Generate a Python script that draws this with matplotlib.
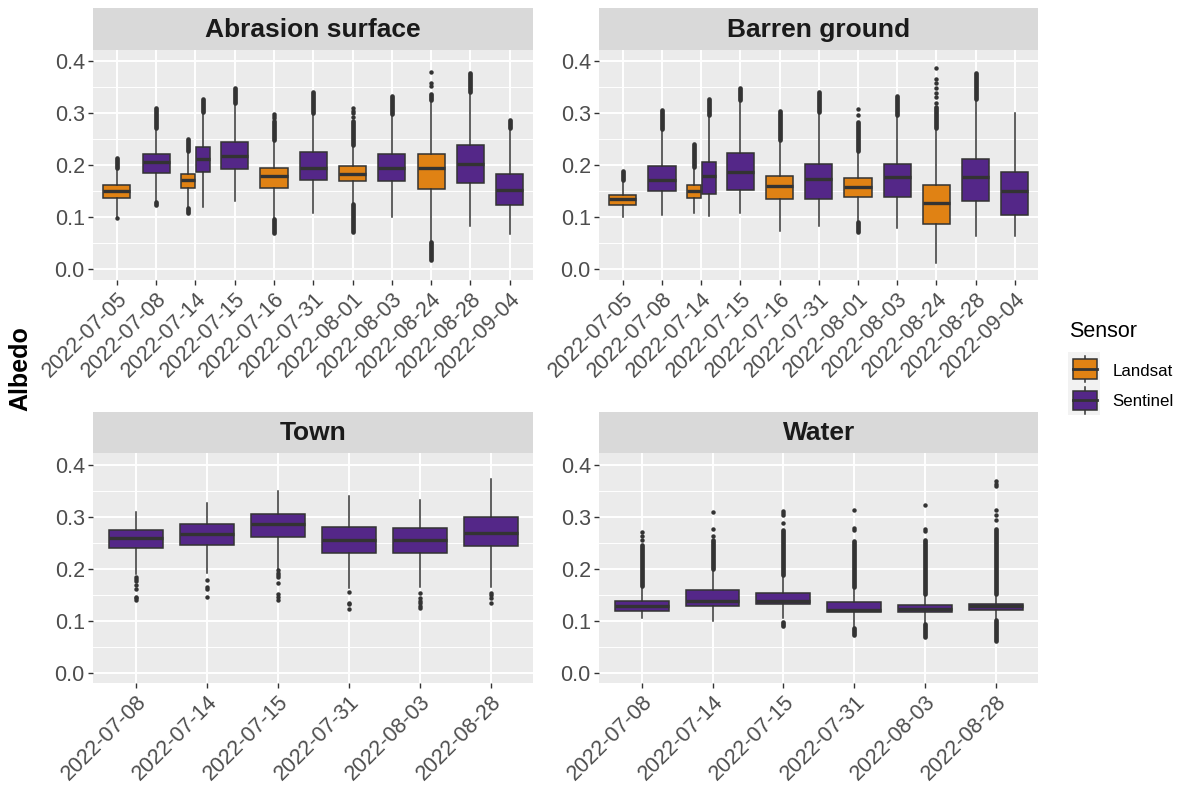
import matplotlib
matplotlib.use("Agg")
import matplotlib.pyplot as plt
import matplotlib.transforms as mtransforms
from matplotlib.patches import Rectangle

plt.rcParams['font.family'] = ['Liberation Sans', 'DejaVu Sans']

# ---------------- data ----------------
SENSORS = ['Landsat', 'Sentinel']
SENSOR_COLORS = ['#E08214', '#542788']

Y_TICKS = [0.0, 0.1, 0.2, 0.3, 0.4]
Y_TICK_LABELS = ['0.0', '0.1', '0.2', '0.3', '0.4']

# Abrasion surface
AB_DATES = ['2022-07-05', '2022-07-08', '2022-07-14', '2022-07-15', '2022-07-16', '2022-07-31',
            '2022-08-01', '2022-08-03', '2022-08-24', '2022-08-28', '2022-09-04']
AB_BOX_DATE = ['2022-07-05', '2022-07-08', '2022-07-14', '2022-07-14', '2022-07-15', '2022-07-16',
               '2022-07-31', '2022-08-01', '2022-08-03', '2022-08-24', '2022-08-28', '2022-09-04']
AB_SENSOR = ['Landsat', 'Sentinel', 'Landsat', 'Sentinel', 'Sentinel', 'Landsat',
             'Sentinel', 'Landsat', 'Sentinel', 'Landsat', 'Sentinel', 'Sentinel']
AB_WLO = [0.101, 0.130, 0.118, 0.119, 0.132, 0.098, 0.108, 0.127, 0.100, 0.055, 0.084, 0.068]
AB_Q1 = [0.138, 0.185, 0.157, 0.187, 0.193, 0.157, 0.172, 0.169, 0.169, 0.154, 0.166, 0.124]
AB_MED = [0.150, 0.206, 0.171, 0.212, 0.218, 0.179, 0.195, 0.184, 0.195, 0.195, 0.202, 0.153]
AB_Q3 = [0.162, 0.221, 0.184, 0.236, 0.244, 0.194, 0.226, 0.199, 0.222, 0.222, 0.239, 0.184]
AB_WHI = [0.193, 0.270, 0.225, 0.300, 0.318, 0.247, 0.298, 0.238, 0.297, 0.323, 0.339, 0.270]
AB_CLUMPS = [[(0.195, 0.214)], [(0.124, 0.130), (0.272, 0.310)], [(0.108, 0.117), (0.227, 0.250)],
             [(0.302, 0.327)], [(0.320, 0.349)], [(0.069, 0.096), (0.249, 0.285)], [(0.300, 0.341)],
             [(0.071, 0.125), (0.240, 0.285)], [(0.299, 0.333)], [(0.017, 0.053), (0.325, 0.338)],
             [(0.341, 0.378)], [(0.272, 0.288)]]
AB_POINTS = [[0.099], [], [], [], [], [0.291, 0.295, 0.299], [], [0.292, 0.300, 0.305, 0.310],
             [], [0.353, 0.358, 0.379], [], []]

# Barren ground
BG_DATES = AB_DATES
BG_BOX_DATE = AB_BOX_DATE
BG_SENSOR = AB_SENSOR
BG_WLO = [0.100, 0.105, 0.108, 0.103, 0.108, 0.074, 0.084, 0.093, 0.079, 0.013, 0.065, 0.065]
BG_Q1 = [0.124, 0.150, 0.138, 0.145, 0.153, 0.135, 0.135, 0.140, 0.140, 0.087, 0.132, 0.105]
BG_MED = [0.136, 0.171, 0.150, 0.180, 0.187, 0.161, 0.174, 0.159, 0.177, 0.128, 0.177, 0.150]
BG_Q3 = [0.143, 0.199, 0.162, 0.207, 0.223, 0.180, 0.202, 0.175, 0.202, 0.162, 0.213, 0.188]
BG_WHI = [0.170, 0.268, 0.194, 0.294, 0.323, 0.247, 0.300, 0.225, 0.294, 0.269, 0.325, 0.300]
BG_CLUMPS = [[(0.172, 0.190)], [(0.270, 0.307)], [(0.196, 0.241)], [(0.296, 0.328)], [(0.325, 0.349)],
             [(0.249, 0.304)], [(0.302, 0.341)], [(0.071, 0.091), (0.227, 0.283)], [(0.296, 0.333)],
             [(0.271, 0.313)], [(0.327, 0.378)], []]
BG_POINTS = [[], [], [], [], [], [], [], [0.297, 0.308], [],
             [0.320, 0.331, 0.339, 0.348, 0.358, 0.366, 0.387], [], []]

# Town
TW_DATES = ['2022-07-08', '2022-07-14', '2022-07-15', '2022-07-31', '2022-08-03', '2022-08-28']
TW_BOX_DATE = TW_DATES
TW_SENSOR = ['Sentinel'] * 6
TW_WLO = [0.189, 0.192, 0.200, 0.162, 0.165, 0.165]
TW_Q1 = [0.240, 0.245, 0.261, 0.230, 0.230, 0.243]
TW_MED = [0.258, 0.266, 0.285, 0.255, 0.255, 0.268]
TW_Q3 = [0.275, 0.286, 0.305, 0.280, 0.278, 0.299]
TW_WHI = [0.308, 0.326, 0.349, 0.339, 0.332, 0.373]
TW_CLUMPS = [[], [], [], [], [], []]
TW_POINTS = [[0.184, 0.181, 0.176, 0.168, 0.160, 0.146, 0.143, 0.140],
             [0.178, 0.164, 0.160, 0.146],
             [0.197, 0.192, 0.188, 0.184, 0.172, 0.152, 0.146, 0.140],
             [0.156, 0.134, 0.132, 0.122],
             [0.154, 0.143, 0.138, 0.133, 0.128, 0.124],
             [0.154, 0.149, 0.143, 0.133]]

# Water
WT_DATES = TW_DATES
WT_BOX_DATE = TW_DATES
WT_SENSOR = ['Sentinel'] * 6
WT_WLO = [0.106, 0.100, 0.105, 0.085, 0.095, 0.103]
WT_Q1 = [0.118, 0.129, 0.132, 0.116, 0.116, 0.121]
WT_MED = [0.128, 0.138, 0.138, 0.120, 0.122, 0.129]
WT_Q3 = [0.138, 0.159, 0.154, 0.135, 0.130, 0.132]
WT_WHI = [0.166, 0.200, 0.187, 0.164, 0.151, 0.152]
WT_CLUMPS = [[(0.166, 0.245)], [(0.200, 0.255)], [(0.090, 0.098), (0.187, 0.274)],
             [(0.072, 0.085), (0.164, 0.253)], [(0.069, 0.093), (0.151, 0.255)],
             [(0.060, 0.101), (0.152, 0.277)]]
WT_POINTS = [[0.256, 0.262, 0.271], [0.262, 0.277, 0.309], [0.287, 0.303, 0.307, 0.310],
             [0.274, 0.279, 0.312], [0.273, 0.277, 0.323],
             [0.293, 0.303, 0.312, 0.358, 0.363, 0.369]]

# ---------------- layout / style ----------------
W, H = 1184, 791
fig = plt.figure(figsize=(W / 100, H / 100), dpi=100)
YLIM = (-0.0205, 0.4218)
EDGE = '#333333'


def px_axes(x0, y0, x1, y1, **kw):
    return fig.add_axes([x0 / W, 1 - y1 / H, (x1 - x0) / W, (y1 - y0) / H], **kw)


def draw_panel(box, title, dates, box_date, sensor, wlo, q1, med, q3, whi, clumps, points,
               single_w, pair_w, pair_off):
    x0, sy0, y0, x1, y1 = box
    ax = px_axes(x0, y0, x1, y1)
    ax.set_facecolor('#EBEBEB')
    for s in ax.spines.values():
        s.set_visible(False)
    n = len(dates)
    ax.set_xlim(0.4, n + 0.6)
    ax.set_ylim(*YLIM)
    ax.set_yticks(Y_TICKS)
    ax.set_yticklabels(Y_TICK_LABELS)
    ax.set_yticks([0.05, 0.15, 0.25, 0.35], minor=True)
    ax.set_xticks(range(1, n + 1))
    ax.set_xticklabels(dates, rotation=45, ha='right', va='top', rotation_mode='anchor')
    shift = mtransforms.ScaledTranslation(6 / 100, -3 / 100, fig.dpi_scale_trans)
    for lab in ax.get_xticklabels():
        lab.set_transform(lab.get_transform() + shift)
    ax.tick_params(which='major', length=3.6, width=1.0, color=EDGE, labelsize=15.5,
                   labelcolor='#4D4D4D', pad=2.5)
    ax.tick_params(which='minor', length=0)
    ax.grid(which='major', color='white', lw=1.4)
    ax.grid(which='minor', axis='y', color='white', lw=0.7)
    ax.set_axisbelow(True)

    counts = {d: box_date.count(d) for d in dates}
    seen = {d: 0 for d in dates}
    pos, widths, stats, colors = [], [], [], []
    for i, d in enumerate(box_date):
        c = dates.index(d) + 1
        if counts[d] == 1:
            p, w = c, single_w
        else:
            p = c + (-pair_off if seen[d] == 0 else pair_off)
            w = pair_w
        seen[d] += 1
        pos.append(p)
        widths.append(w)
        stats.append(dict(whislo=wlo[i], q1=q1[i], med=med[i], q3=q3[i], whishi=whi[i], fliers=[]))
        colors.append(SENSOR_COLORS[SENSORS.index(sensor[i])])

    bp = ax.bxp(stats, positions=pos, widths=widths, patch_artist=True, showfliers=False,
                showcaps=False, manage_ticks=False,
                boxprops=dict(edgecolor=EDGE, linewidth=1.1),
                whiskerprops=dict(color=EDGE, linewidth=1.1),
                medianprops=dict(color=EDGE, linewidth=2.4, solid_capstyle='butt'))
    for patch, col in zip(bp['boxes'], colors):
        patch.set_facecolor(col)
    for i, p in enumerate(pos):
        for lo, hi in clumps[i]:
            ax.plot([p, p], [lo, hi], color=EDGE, lw=3.4, solid_capstyle='round', zorder=3)
        if points[i]:
            ax.plot([p] * len(points[i]), points[i], 'o', color=EDGE, ms=3.2, mew=0, zorder=3)

    sax = px_axes(x0, sy0, x1, y0)
    sax.set_facecolor('#D9D9D9')
    sax.set_xticks([])
    sax.set_yticks([])
    for s in sax.spines.values():
        s.set_visible(False)
    sax.text(0.5, 0.48, title, transform=sax.transAxes, ha='center', va='center',
             fontsize=19, fontweight='bold', color='#1A1A1A')
    return ax


draw_panel((93.3, 8.3, 50, 533.3, 280), 'Abrasion surface', AB_DATES, AB_BOX_DATE, AB_SENSOR,
           AB_WLO, AB_Q1, AB_MED, AB_Q3, AB_WHI, AB_CLUMPS, AB_POINTS, 0.69, 0.36, 0.19)
draw_panel((599.3, 8.3, 50, 1038.3, 280), 'Barren ground', BG_DATES, BG_BOX_DATE, BG_SENSOR,
           BG_WLO, BG_Q1, BG_MED, BG_Q3, BG_WHI, BG_CLUMPS, BG_POINTS, 0.69, 0.36, 0.19)
draw_panel((93.3, 411.7, 453.3, 533.3, 683.3), 'Town', TW_DATES, TW_BOX_DATE, TW_SENSOR,
           TW_WLO, TW_Q1, TW_MED, TW_Q3, TW_WHI, TW_CLUMPS, TW_POINTS, 0.76, 0.38, 0.19)
draw_panel((599.3, 411.7, 453.3, 1038.3, 683.3), 'Water', WT_DATES, WT_BOX_DATE, WT_SENSOR,
           WT_WLO, WT_Q1, WT_MED, WT_Q3, WT_WHI, WT_CLUMPS, WT_POINTS, 0.76, 0.38, 0.19)

# y axis title
fig.text(20 / W, 1 - 369 / H, 'Albedo', rotation=90, ha='center', va='center',
         fontsize=18, fontweight='bold', color='black')

# legend
fig.text(1069.3 / W, 1 - 331.7 / H, 'Sensor', ha='left', va='center', fontsize=15.5, color='black')
lax = px_axes(1068.3, 351.7, 1100, 415)
lax.set_xlim(1068.3, 1100)
lax.set_ylim(415, 351.7)
lax.set_facecolor('#F2F2F2')
lax.set_xticks([])
lax.set_yticks([])
for s in lax.spines.values():
    s.set_visible(False)
key_tops = [359.3, 390.7]
key_label_y = [371.7, 401.7]
for k, (name, col) in enumerate(zip(SENSORS, SENSOR_COLORS)):
    top = key_tops[k]
    lax.plot([1085, 1085], [top - 3.5, top + 19.4 + 3.5], color=EDGE, lw=1.1)
    lax.add_patch(Rectangle((1072.7, top), 24.6, 19.4, facecolor=col, edgecolor=EDGE, lw=1.1, zorder=3))
    lax.plot([1072.7, 1097.3], [top + 9.7, top + 9.7], color=EDGE, lw=2.0, zorder=4)
    fig.text(1112.7 / W, 1 - key_label_y[k] / H, name, ha='left', va='center', fontsize=12.2,
             color='black')

fig.savefig('out.png', dpi=100)
